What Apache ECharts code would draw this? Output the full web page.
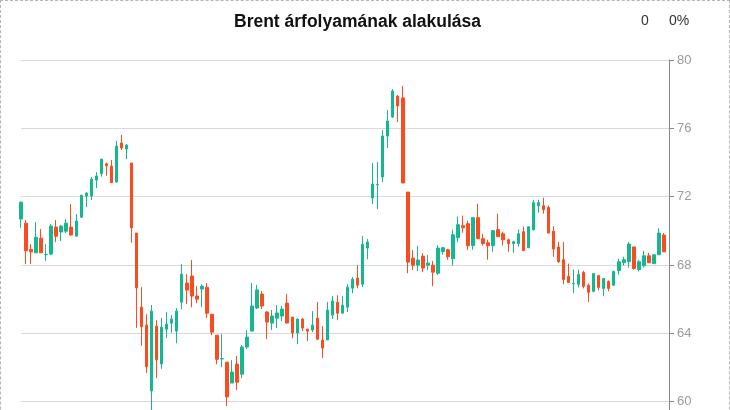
<!DOCTYPE html>
<html>
<head>
<meta charset="utf-8">
<script src="https://cdn.jsdelivr.net/npm/echarts@6/dist/echarts.min.js"></script>
<style>
html, body { margin: 0; padding: 0; overflow: hidden; background: #fff; }
#frame { position: absolute; left: 0; top: 0; width: 730px; height: 520px; box-sizing: border-box; border: 1px dashed #b5b5b5; }
#chart { position: absolute; left: 0; top: 0; width: 730px; height: 520px; }
</style>
</head>
<body>
<div id="frame"></div>
<div id="chart"></div>
<script>
const titleText = 'Brent árfolyamának alakulása';
const changeValue = '0';
const changePercent = '0%';
const yTicks = [56, 60, 64, 68, 72, 76, 80];

const open = [70.69,70.45,68.91,68.71,69.57,68.60,68.64,70.22,69.93,69.98,70.22,69.69,70.80,72.04,72.04,72.97,73.34,73.93,73.79,72.86,
75.14,74.79,73.97,69.87,65.53,64.48,60.63,64.42,62.21,64.24,64.59,64.13,65.82,66.94,67.35,66.18,66.59,66.70,65.12,63.89,
62.50,62.31,61.09,62.20,61.61,63.20,64.13,65.48,66.30,65.25,64.60,64.89,65.01,65.77,64.95,64.02,64.84,64.25,64.19,64.89,
63.61,63.61,65.07,65.82,65.18,65.53,66.64,67.23,66.88,68.99,71.92,72.70,73.15,75.55,76.66,77.89,77.78,72.27,68.40,67.99,
68.52,67.99,67.99,67.52,68.78,68.89,68.37,69.60,70.30,70.42,69.13,70.77,69.54,69.30,69.13,70.07,69.83,69.48,69.25,69.25,
69.95,69.01,70.07,71.47,71.47,71.37,69.98,69.06,68.31,67.33,66.90,66.87,67.56,66.81,66.46,67.38,66.63,67.04,66.81,67.67,
68.13,68.19,69.06,67.73,67.96,68.54,68.08,68.60,69.75];
const close = [71.68,68.83,68.77,69.63,68.71,68.62,70.28,69.69,70.28,70.45,69.75,70.57,72.09,72.21,73.03,73.21,74.20,73.81,72.82,74.96,
74.85,75.02,70.18,66.66,64.38,62.04,65.30,62.45,64.36,64.54,64.83,65.30,67.46,66.53,66.18,66.00,66.76,65.18,64.07,62.48,
62.52,60.28,61.73,61.14,63.20,63.78,65.60,66.54,65.60,64.66,65.01,65.19,65.42,64.60,64.02,64.84,64.31,64.13,64.48,63.66,
63.14,65.36,65.89,65.18,65.65,66.70,67.17,66.82,69.22,69.34,72.74,72.72,75.55,76.43,78.19,77.31,72.80,68.17,67.99,68.29,
67.82,68.11,67.58,68.99,69.01,68.48,69.77,70.36,70.18,69.13,70.77,69.54,69.25,69.13,70.01,69.66,69.48,69.25,69.36,69.83,
68.84,70.24,71.65,71.65,71.24,69.87,68.94,68.19,67.15,66.98,66.92,67.44,66.75,66.40,67.50,66.69,67.21,66.63,67.62,68.19,
68.31,69.23,67.79,68.19,68.54,68.13,68.60,69.87,68.77];
const low = [70.18,68.05,68.05,68.71,68.71,68.25,68.58,69.34,69.40,69.87,69.75,69.69,70.75,71.39,71.80,72.50,73.17,73.23,72.82,72.82,
74.73,74.20,69.30,64.32,63.27,61.68,59.50,61.39,61.92,63.73,64.03,63.42,65.41,65.71,65.53,65.77,65.53,64.89,63.89,62.19,
62.02,59.75,61.09,60.68,61.38,63.08,64.13,65.42,65.42,63.66,64.19,64.31,64.72,64.60,63.72,63.37,64.13,63.55,64.07,63.61,
62.55,63.61,64.84,64.77,65.18,65.24,66.35,66.64,66.70,68.34,71.57,71.27,72.86,74.85,76.61,76.37,72.80,67.52,67.70,67.64,
67.58,67.70,66.76,67.41,68.60,68.31,67.96,69.36,69.89,68.89,68.89,69.54,69.13,68.31,68.78,69.66,69.13,68.78,68.72,69.07,
68.84,69.01,70.01,71.06,71.00,69.87,68.48,68.13,66.87,66.98,66.35,66.69,66.63,65.83,66.40,66.52,66.17,66.46,66.81,67.44,
67.96,67.85,67.73,67.62,67.85,68.13,68.08,68.60,68.77];
const high = [71.70,70.63,69.22,70.51,70.10,69.22,70.39,70.63,70.32,70.69,71.57,70.98,72.09,72.27,73.15,73.44,74.20,73.99,74.14,75.26,
75.61,75.08,73.97,69.87,66.70,65.12,65.65,64.77,64.89,65.24,65.06,65.47,68.05,67.46,68.29,66.76,66.88,66.94,65.12,63.89,
63.95,62.31,62.43,62.67,63.31,64.19,66.95,66.83,66.48,65.31,65.36,65.66,65.60,66.30,64.95,64.84,64.89,64.25,65.30,65.83,
64.43,65.83,66.18,66.23,66.18,66.88,67.29,67.99,69.69,69.52,73.97,74.03,75.90,77.07,78.30,77.95,78.48,72.27,68.87,69.11,
68.70,68.58,68.23,69.16,69.07,68.95,70.07,70.83,70.89,70.59,70.77,71.59,69.83,69.48,70.01,71.00,69.95,69.54,69.42,70.07,
70.24,70.24,71.82,71.82,71.94,71.48,70.27,69.35,69.35,68.08,67.73,67.73,67.67,66.92,67.50,67.38,67.21,67.10,67.67,68.37,
68.48,69.35,69.06,68.31,68.83,68.71,68.60,70.15,69.87];

// category labels (one extra empty slot at the right edge)
const categories = open.map((_, i) => String(i + 1)).concat(['']);
const ohlc = open.map((o, i) => [o, close[i], low[i], high[i]]).concat(['-']);

const chart = echarts.init(document.getElementById('chart'), null, { renderer: 'canvas' });
chart.setOption({
  animation: false,
  backgroundColor: 'transparent',
  title: {
    text: titleText,
    left: 229,
    top: 8,
    textStyle: { fontFamily: 'Liberation Sans, Arial, sans-serif', fontSize: 17.5, fontWeight: 'bold', color: '#111' }
  },
  graphic: [
    { type: 'text', left: 641, top: 14, style: { text: changeValue, fontFamily: 'Liberation Sans, Arial, sans-serif', fontSize: 14, fill: '#333' } },
    { type: 'text', left: 669, top: 14, style: { text: changePercent, fontFamily: 'Liberation Sans, Arial, sans-serif', fontSize: 14, fill: '#333' } }
  ],
  grid: { left: 21, right: 61, top: 60, height: 410 },
  xAxis: {
    type: 'category',
    data: categories,
    boundaryGap: false,
    axisLine: { show: false },
    axisTick: { show: false },
    axisLabel: { show: false },
    splitLine: { show: false }
  },
  yAxis: {
    type: 'value',
    position: 'right',
    min: yTicks[0],
    max: yTicks[yTicks.length - 1],
    interval: 4,
    scale: true,
    axisLine: { show: true, lineStyle: { color: '#888', width: 1 } },
    axisTick: { show: true, length: 5, lineStyle: { color: '#888' } },
    axisLabel: { color: '#9a9a9a', fontSize: 13, margin: 8, fontFamily: 'Liberation Sans, Arial, sans-serif' },
    splitLine: { show: true, lineStyle: { color: '#d9d9d9', width: 1 } }
  },
  series: [{
    type: 'candlestick',
    data: ohlc,
    barWidth: 3,
    clip: true,
    itemStyle: {
      color: '#14b890',
      color0: '#fc4b1e',
      borderColor: '#14b890',
      borderColor0: '#fc4b1e',
      borderWidth: 1
    }
  }]
});
</script>
</body>
</html>
